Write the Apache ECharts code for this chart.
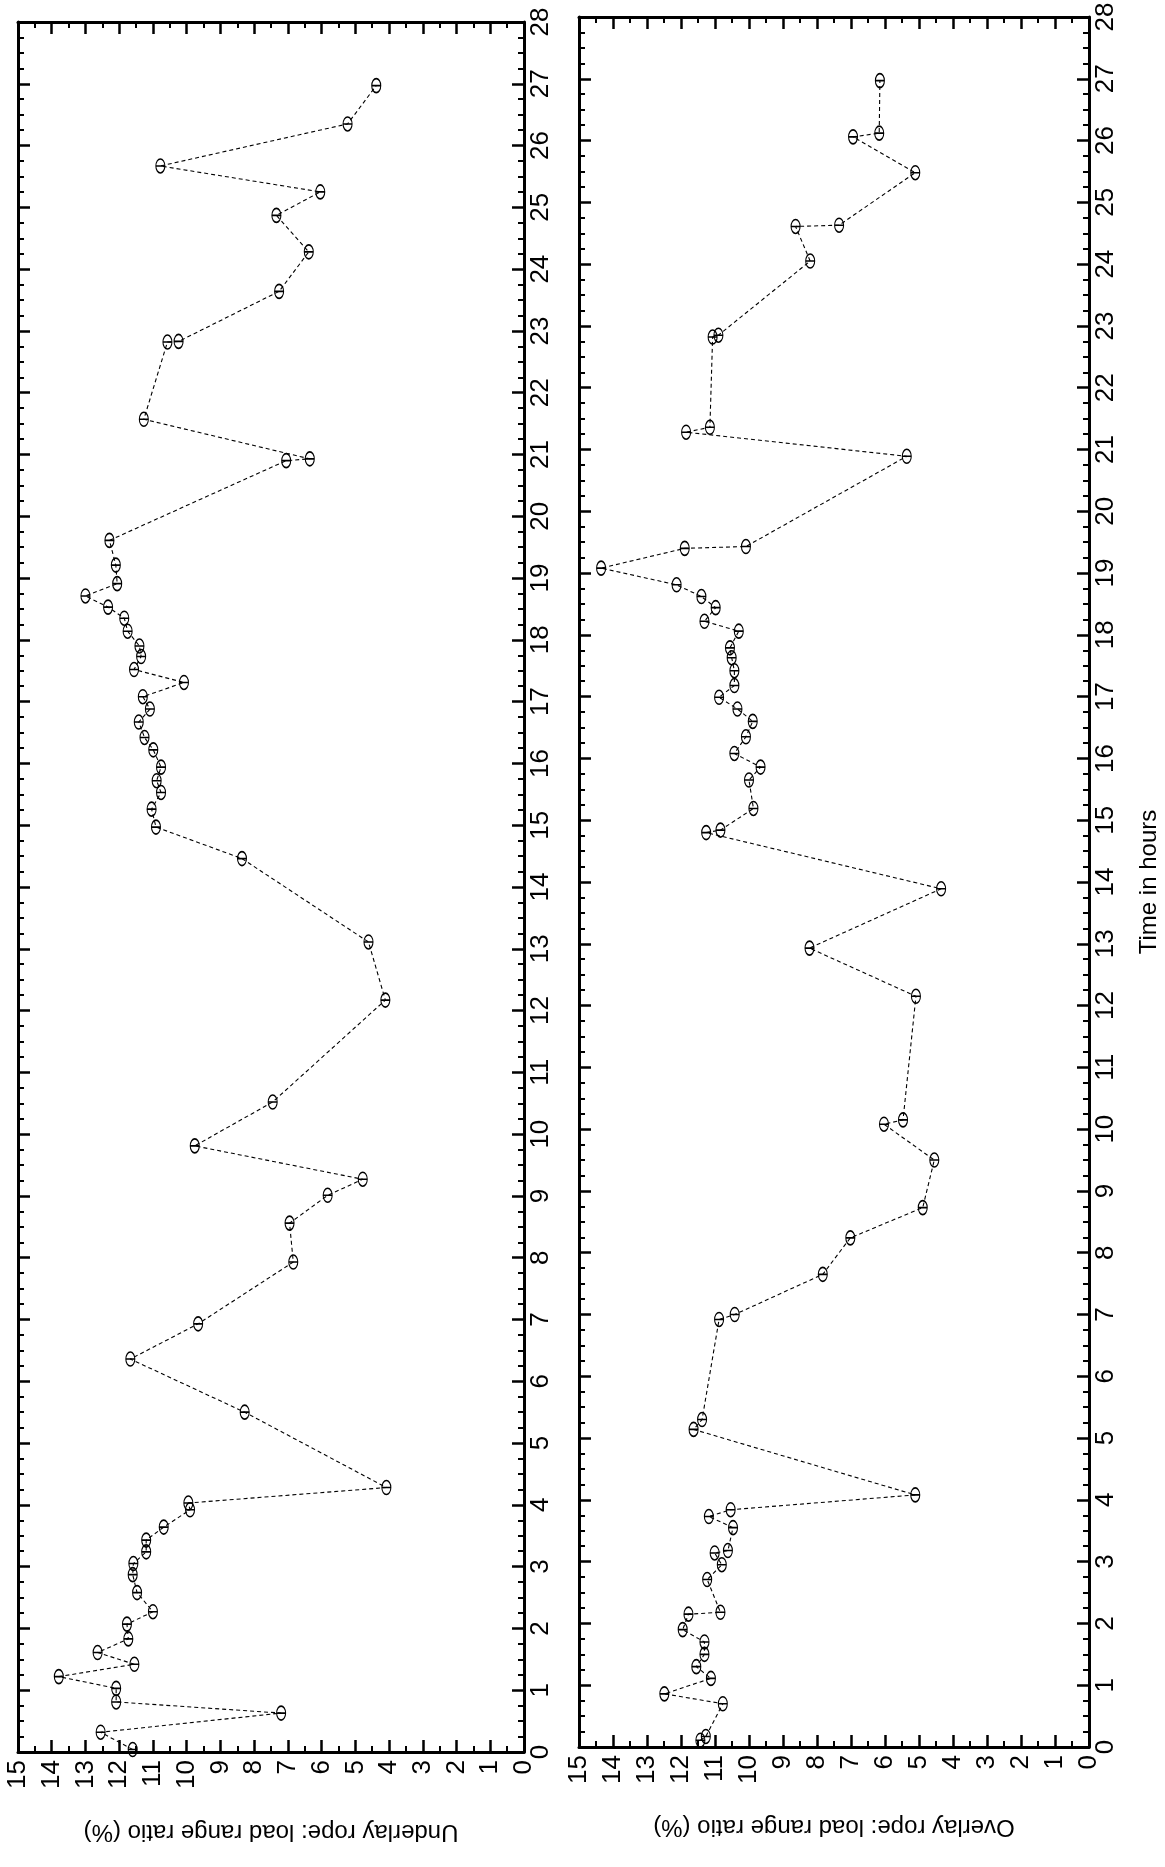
<!DOCTYPE html>
<html><head><meta charset="utf-8">
<script src="https://cdn.jsdelivr.net/npm/echarts@6/dist/echarts.min.js"></script>
<style>html,body{margin:0;padding:0;background:#fff}#c{width:1165px;height:1867px}</style>
</head><body><div id="c"></div>
<script>
// Underlay rope (left panel): time in hours and load range ratio (%)
const underlayHours = [0.04,0.32,0.63,0.81,1.03,1.22,1.42,1.61,1.83,2.07,2.27,2.58,2.87,3.05,3.24,3.43,3.64,3.92,4.03,4.28,5.50,6.36,6.93,7.93,8.56,9.01,9.27,9.81,10.52,12.17,13.11,14.46,14.97,15.26,15.53,15.72,15.94,16.22,16.42,16.67,16.88,17.08,17.31,17.52,17.73,17.90,18.14,18.35,18.53,18.71,18.91,19.21,19.61,20.90,20.93,21.57,22.82,22.83,23.64,24.28,24.87,25.25,25.67,26.35,26.97];
const underlayRatio = [11.6,12.55,7.2,12.09,12.09,13.79,11.55,12.64,11.73,11.77,11.0,11.47,11.6,11.58,11.2,11.2,10.68,9.9,9.95,4.08,8.28,11.67,9.66,6.84,6.95,5.82,4.78,9.76,7.45,4.11,4.61,8.36,10.91,11.04,10.76,10.89,10.76,10.99,11.25,11.42,11.09,11.3,10.08,11.56,11.35,11.4,11.75,11.85,12.33,13.0,12.06,12.1,12.29,7.05,6.35,11.27,10.57,10.24,7.26,6.38,7.34,6.04,10.78,5.23,4.38];
// Overlay rope (right panel)
const overlayHours = [0.11,0.17,0.70,0.86,1.11,1.30,1.50,1.70,1.90,2.15,2.18,2.71,2.95,3.14,3.18,3.55,3.73,3.84,4.08,5.14,5.30,6.92,7.00,7.65,8.24,8.73,9.50,10.08,10.15,12.15,12.93,13.89,14.80,14.84,15.19,15.65,15.86,16.08,16.35,16.60,16.80,16.99,17.18,17.42,17.63,17.79,18.06,18.22,18.44,18.62,18.81,19.08,19.40,19.43,20.89,21.28,21.36,22.82,22.85,24.05,24.61,24.63,25.48,26.06,26.12,26.97];
const overlayRatio = [11.43,11.27,10.77,12.49,11.12,11.55,11.31,11.31,11.95,11.78,10.84,11.23,10.80,11.01,10.62,10.47,11.18,10.54,5.11,11.63,11.38,10.88,10.42,7.83,7.02,4.89,4.55,6.03,5.47,5.09,8.22,4.35,11.26,10.84,9.87,10.0,9.66,10.43,10.09,9.89,10.34,10.88,10.43,10.43,10.51,10.56,10.30,11.31,10.98,11.40,12.13,14.35,11.89,10.09,5.36,11.85,11.15,11.07,10.90,8.20,8.63,7.35,5.11,6.94,6.17,6.15];

const ratioNames = ['Underlay rope: load range ratio (%)', 'Overlay rope: load range ratio (%)'];
const timeName = 'Time in hours';
const ratioRange = [0, 15];
const timeRange = [0, 28];

const FONT = '"Liberation Sans", Arial, Helvetica, sans-serif';
const chart = echarts.init(document.getElementById('c'), null, {renderer: 'canvas'});
const marker = 'path://M0,-10 A6,10 0 1,1 0,10 A6,10 0 1,1 0,-10 Z M-6,0 L6,0';

function zip(xs, ys) { return xs.map((x, i) => [x, ys[i]]); }

function ratioAxis(grid, pos, name) {
  return {
    type: 'value', gridIndex: grid, position: pos, min: ratioRange[0], max: ratioRange[1], interval: 1, inverse: true,
    axisLine: {show: true, onZero: false, lineStyle: {color: '#000', width: 3}},
    axisTick: {show: true, inside: true, length: 12, lineStyle: {color: '#000', width: 2.5}},
    minorTick: {show: true, splitNumber: 2, length: 6, lineStyle: {color: '#000', width: 2}},
    axisLabel: pos === 'bottom' ? {show: true, rotate: 90, margin: 8, fontSize: 26, fontFamily: FONT, color: '#000'} : {show: false},
    splitLine: {show: false}, minorSplitLine: {show: false},
    name: name || '', nameLocation: 'middle', nameRotate: 180, nameGap: 68,
    nameTextStyle: {fontSize: 24, fontFamily: FONT, color: '#000'}
  };
}
function timeAxis(grid, pos, name) {
  return {
    type: 'value', gridIndex: grid, position: pos, min: timeRange[0], max: timeRange[1], interval: 1,
    axisLine: {show: true, onZero: false, lineStyle: {color: '#000', width: 3}},
    axisTick: {show: true, inside: true, length: 12, lineStyle: {color: '#000', width: 2.5}},
    minorTick: {show: true, splitNumber: 4, length: 6, lineStyle: {color: '#000', width: 2}},
    axisLabel: pos === 'right' ? {show: true, rotate: 90, margin: 4, fontSize: 26, fontFamily: FONT, color: '#000'} : {show: false},
    splitLine: {show: false}, minorSplitLine: {show: false},
    name: name || '', nameLocation: 'middle', nameRotate: 90, nameGap: 48,
    nameTextStyle: {fontSize: 24, fontFamily: FONT, color: '#000'}
  };
}
function lineSeries(xi, yi, data) {
  return {
    type: 'line', xAxisIndex: xi, yAxisIndex: yi, data: data,
    symbol: marker, symbolSize: [9, 14], showAllSymbol: true,
    itemStyle: {color: 'rgba(255,255,255,0)', borderColor: '#000', borderWidth: 1.3},
    lineStyle: {color: '#000', width: 1.1, type: [4, 3]},
    silent: true, animation: false
  };
}

chart.setOption({
  backgroundColor: '#fff',
  animation: false,
  textStyle: {fontFamily: FONT},
  grid: [
    {left: 18, top: 22, width: 506, height: 1730, containLabel: false, outerBoundsMode: 'none'},
    {left: 579, top: 17, width: 510, height: 1730, containLabel: false, outerBoundsMode: 'none'}
  ],
  xAxis: [
    ratioAxis(0, 'bottom', ratioNames[0]),
    ratioAxis(0, 'top'),
    ratioAxis(1, 'bottom', ratioNames[1]),
    ratioAxis(1, 'top')
  ],
  yAxis: [
    timeAxis(0, 'right'),
    timeAxis(0, 'left'),
    timeAxis(1, 'right', timeName),
    timeAxis(1, 'left')
  ],
  series: [
    lineSeries(0, 0, zip(underlayRatio, underlayHours)),
    lineSeries(2, 2, zip(overlayRatio, overlayHours))
  ]
});
</script></body></html>
